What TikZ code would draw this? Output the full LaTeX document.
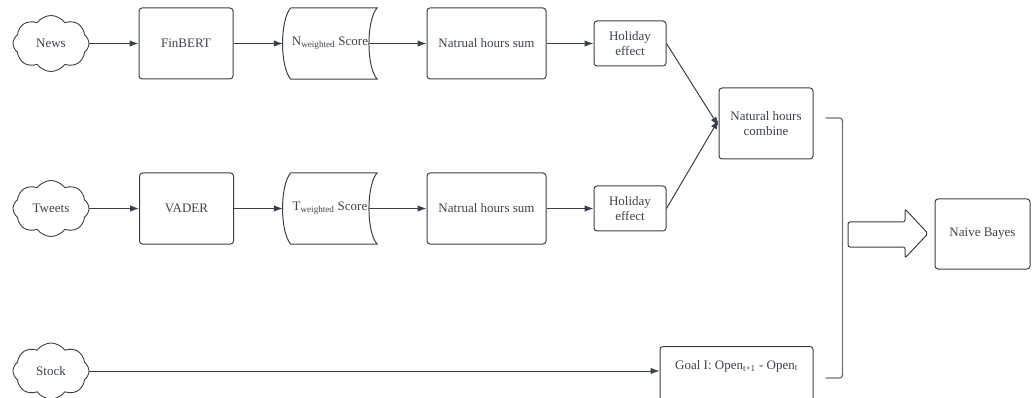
\documentclass[tikz,border=0pt]{standalone}
\usepackage{fontspec}
\setmainfont{Liberation Serif}
\usetikzlibrary{shapes.symbols,arrows.meta,calc}
\definecolor{ln}{HTML}{3B4048}
\definecolor{tx}{HTML}{3D434B}
\definecolor{br}{HTML}{70747A}
\begin{document}
\begin{tikzpicture}[x=1pt,y=-1pt,
  every node/.style={font=\fontsize{13}{15.5}\selectfont, text=tx},
  box/.style={draw=ln, line width=1pt, rounded corners=3pt, align=center, inner sep=0pt},
  bigbox/.style={box, minimum width=94pt, minimum height=71pt},
  hbox/.style={box, minimum width=72pt, minimum height=45pt},
  cloudy/.style={cloud, draw=ln, line width=0.9pt, cloud puffs=8, cloud puff arc=110, aspect=1.4, minimum width=76pt, minimum height=56pt, inner sep=0pt},
  plain/.style={inner sep=0pt, minimum width=94pt, minimum height=71pt},
  arr/.style={draw=ln, line width=1pt, -{Latex[length=9pt,width=6.5pt]}},
  ln/.style={draw=ln, line width=1pt},
  brk/.style={draw=br, line width=1.3pt, rounded corners=3pt}]
\clip (0,0) rectangle (1036,398);
% row 1
\node[cloudy] (news) at (51,43.5) {News};
\node[bigbox] (finbert) at (186,43.5) {FinBERT};
\node[plain] (nscore) at (330,43.5) {N\textsubscript{weighted} Score};
\node[bigbox, minimum width=119pt] (nsum1) at (486.5,43.5) {Natrual hours sum};
\node[hbox] (hol1) at (630,43.5) {Holiday\\effect};
% row 2
\node[cloudy] (tweets) at (51,208.5) {Tweets};
\node[bigbox] (vader) at (186.5,208.5) {VADER};
\node[plain] (tscore) at (330,208.5) {T\textsubscript{weighted} Score};
\node[bigbox, minimum width=119pt] (nsum2) at (486.5,208.5) {Natrual hours sum};
\node[hbox] (hol2) at (630,208.5) {Holiday\\effect};
% combine
\node[bigbox] (comb) at (766,123.5) {Natural hours\\combine};
% row 3
\node[cloudy] (stock) at (51,371) {Stock};
\node[box, minimum width=153pt, minimum height=71pt, anchor=north] (goal) at (736.5,346) {};
\node[inner sep=0pt] (goaltxt) at ([yshift=-20]goal.north) {Goal I: Open\textsubscript{t+1} - Open\textsubscript{t}};
% naive bayes
\node[bigbox, minimum width=95pt, minimum height=70pt] (nb) at (982.5,234) {Naive Bayes};

% stored data shapes
\foreach \s in {nscore,tscore}{
  \draw[ln] ($(\s.north west)+(8,0)$) -- (\s.north east)
    .. controls ($(\s.north east)+(-11,12)$) and ($(\s.south east)+(-11,-12)$) .. (\s.south east)
    -- ($(\s.south west)+(8,0)$)
    .. controls ($(\s.south west)+(-3,-12)$) and ($(\s.north west)+(-3,12)$) .. ($(\s.north west)+(8,0)$);
}

% connectors
\draw[arr] (news.east) -- (finbert.west);
\draw[arr] (finbert.east) -- (nscore.west);
\draw[arr] ([xshift=-8]nscore.east) -- (nsum1.west);
\draw[arr] (nsum1.east) -- (hol1.west);
\draw[arr] (tweets.east) -- (vader.west);
\draw[arr] (vader.east) -- (tscore.west);
\draw[arr] ([xshift=-8]tscore.east) -- (nsum2.west);
\draw[arr] (nsum2.east) -- (hol2.west);
\draw[arr] (hol1.east) -- ([yshift=-2.5]comb.west);
\draw[arr] (hol2.east) -- ([yshift=3.5]comb.west);
\draw[arr] (stock.east) -- (stock.east -| goal.west);

% bracket
\coordinate (bt) at ($(comb.east)+(12,-5.5)$);
\coordinate (bb) at ($(goal.north east)+(12,32)$);
\draw[brk] (bt) -- ++(17,0) |- (bb);

% block arrow
\coordinate (ba) at (848,222);
\draw[ln, rounded corners=2pt] (ba) -- ++(57,0) -- ++(0,-13) -- ++(23,24.5) -- ++(-23,24.5) -- ++(0,-11) -- ++(-57,0) -- cycle;
\end{tikzpicture}
\end{document}
